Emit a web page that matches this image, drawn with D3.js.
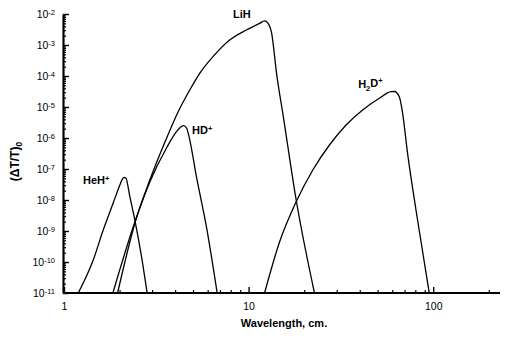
<!DOCTYPE html>
<html><head><meta charset="utf-8">
<script src="https://cdn.jsdelivr.net/npm/d3@7/dist/d3.min.js"></script>
<style>body{margin:0;background:#fff}text{font-family:"Liberation Sans",Arial,sans-serif;fill:#000}</style>
</head><body>
<svg id="c" width="506" height="339"></svg>
<script>
// ---- data (wavelength in cm, (ΔT/T)0) ----
const yTickExps = [-2,-3,-4,-5,-6,-7,-8,-9,-10,-11];
const xTickValues = [1,10,100];
const xTickLabels = ["1","10","100"];
const xTitle = "Wavelength, cm.";

const hehLambda = [1.195,1.44,1.631,1.847,2.007,2.058,2.11,2.163,2.274,2.42,2.63,2.82];
const hehValue  = [1e-11,1.16e-10,1.08e-9,8.0e-9,3.05e-8,4.4e-8,5.4e-8,5.1e-8,1.28e-8,2.26e-9,1.48e-10,1e-11];

const lihLambda = [1.951,2.449,2.917,3.559,4.148,4.799,5.435,6.412,7.894,9.719,11.47,12.2,12.72,13.32,14.17,15.46,18.1,22.74];
const lihValue  = [1e-11,2.26e-9,4.42e-8,8.6e-7,6.9e-6,3.53e-5,1.22e-4,4.2e-4,1.45e-3,3.05e-3,5.0e-3,6.0e-3,5.1e-3,2.44e-3,1.22e-4,4.4e-6,1.0e-8,1e-11];

const hdLambda = [1.84,2.42,2.917,3.59,4.067,4.29,4.45,4.62,4.757,5.216,5.907,6.757];
const hdValue  = [1e-11,1.95e-9,3.81e-8,4.76e-7,1.6e-6,2.26e-6,2.5e-6,2.06e-6,1.1e-6,5.65e-8,1.38e-9,1e-11];

const h2dLambda = [12.2,14.71,18.1,22.27,27.41,33.74,41.48,51.07,59.07,61.54,65.5,68.27,72.62,80.64,95.15];
const h2dValue  = [1e-11,4.42e-10,8.8e-9,9.3e-8,5.95e-7,2.63e-6,8.0e-6,1.91e-5,3.12e-5,3.16e-5,2.15e-5,6.26e-6,3.21e-7,4.76e-9,1e-11];

const seriesNames = ["HeH","LiH","HD","H2D"];
const labelLambda = [1.268, 8.24, 4.94, 39.2];
const labelValue  = [3.3e-8, 7.4e-3, 1.35e-6, 4.1e-5];

// ---- chart ----
const svg = d3.select("#c");
const x = d3.scaleLog().domain([1,230]).range([64,500]);
const y = d3.scaleLog().domain([1e-11,1e-2]).range([293,14]);

const minorX = [];
for (let d=1; d<=100; d*=10) for (let k=2;k<=9;k++) if (d*k<=230) minorX.push(d*k);
const minorY = [];
for (let e=-11; e<-2; e++) for (let k=2;k<=9;k++) minorY.push(k*Math.pow(10,e));

// x axis minor
svg.append("g").attr("transform","translate(0,293)")
  .call(d3.axisBottom(x).tickValues(minorX).tickSize(-3).tickSizeOuter(0).tickFormat(""))
  .call(g=>g.select(".domain").remove())
  .selectAll("line").attr("stroke","#000").attr("stroke-width",1.2);
// y axis minor
svg.append("g").attr("transform","translate(63,0)")
  .call(d3.axisLeft(y).tickValues(minorY).tickSize(-3).tickSizeOuter(0).tickFormat(""))
  .call(g=>g.select(".domain").remove())
  .selectAll("line").attr("stroke","#000").attr("stroke-width",1.2);

// x axis major
const gx = svg.append("g").attr("transform","translate(0,293)")
  .call(d3.axisBottom(x).tickValues(xTickValues).tickSize(-6).tickSizeOuter(0).tickPadding(10)
        .tickFormat((d,i)=>xTickLabels[i]));
gx.select(".domain").attr("stroke","#000").attr("stroke-width",2.2).attr("d","M63,0H500");
gx.selectAll("line").attr("stroke","#000").attr("stroke-width",1.4);
gx.selectAll("text").attr("font-size",10.5).attr("font-family","Liberation Sans, Arial, sans-serif").attr("fill","#000");

// y axis major
const gy = svg.append("g").attr("transform","translate(63,0)")
  .call(d3.axisLeft(y).tickValues(yTickExps.map(e=>Math.pow(10,e))).tickSize(-6).tickSizeOuter(0).tickPadding(8)
        .tickFormat(""));
gy.select(".domain").attr("stroke","#000").attr("stroke-width",2.2);
gy.selectAll("line").attr("stroke","#000").attr("stroke-width",1.4);
gy.selectAll(".tick").each(function(d,i){
  const t = d3.select(this).append("text").attr("x",-8).attr("dy","0.35em")
    .attr("text-anchor","end").attr("font-size",10.5);
  t.append("tspan").text("10");
  t.append("tspan").attr("dy","-0.45em").attr("font-size",7.5).text(String(yTickExps[i]));
});

// x title
svg.append("text").attr("x",(x(1)+x(230))/2+2).attr("y",327).attr("text-anchor","middle")
  .attr("font-size",11).attr("font-weight","bold").text(xTitle);

// y title
const yt = svg.append("text").attr("transform","translate(19,"+((y(1e-7)+y(1e-6))/2+8)+") rotate(-90)")
  .attr("text-anchor","middle").attr("font-size",12).attr("font-weight","bold");
yt.append("tspan").text("(ΔT/T)");
yt.append("tspan").attr("dy","0.3em").attr("font-size",8.5).text("0");

// curves
const line = d3.line().x(d=>x(d[0])).y(d=>y(d[1])).curve(d3.curveMonotoneX);
const allSeries = [
  d3.zip(hehLambda,hehValue),
  d3.zip(lihLambda,lihValue),
  d3.zip(hdLambda,hdValue),
  d3.zip(h2dLambda,h2dValue)
];
svg.append("g").selectAll("path").data(allSeries).join("path")
  .attr("d",line).attr("fill","none").attr("stroke","#000").attr("stroke-width",1.3);

// labels
function lbl(i, parts){
  const t = svg.append("text").attr("x",x(labelLambda[i])).attr("y",y(labelValue[i]))
    .attr("font-size",11).attr("font-weight","bold");
  parts.forEach(p=>{
    const s = t.append("tspan").text(p[0]);
    if (p[1]==="sup") s.attr("dy","-0.45em").attr("font-size",7.5);
    else if (p[1]==="sub") s.attr("dy","0.35em").attr("font-size",7.5);
    else if (p[1]==="base") s.attr("dy",p[2]);
  });
}
lbl(0,[["HeH"],["+","sup"]]);
lbl(1,[["LiH"]]);
lbl(2,[["HD"],["+","sup"]]);
lbl(3,[["H"],["2","sub"],["D","base","-0.35em"],["+","sup"]]);
</script>
</body></html>
